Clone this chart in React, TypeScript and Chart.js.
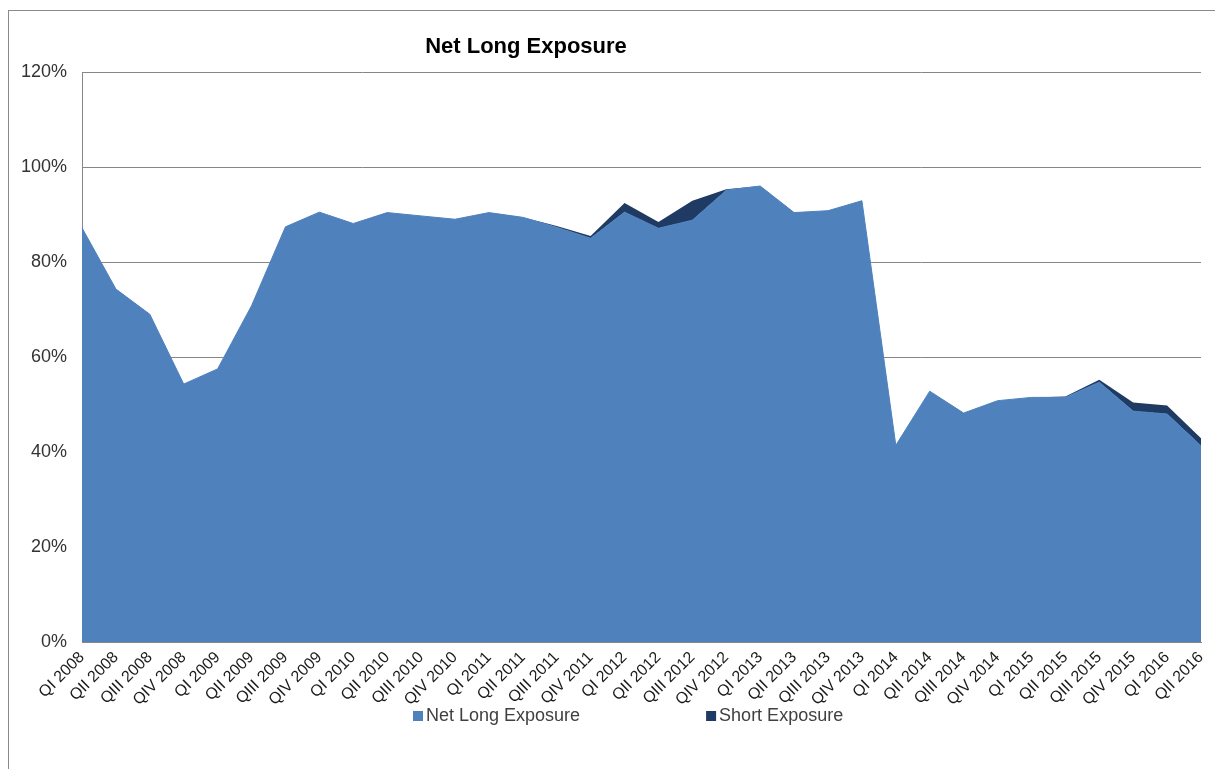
import React, { useEffect, useRef } from 'react';
import { Chart, registerables } from 'chart.js';

Chart.register(...registerables);

const quarters = [
  'QI 2008', 'QII 2008', 'QIII 2008', 'QIV 2008',
  'QI 2009', 'QII 2009', 'QIII 2009', 'QIV 2009',
  'QI 2010', 'QII 2010', 'QIII 2010', 'QIV 2010',
  'QI 2011', 'QII 2011', 'QIII 2011', 'QIV 2011',
  'QI 2012', 'QII 2012', 'QIII 2012', 'QIV 2012',
  'QI 2013', 'QII 2013', 'QIII 2013', 'QIV 2013',
  'QI 2014', 'QII 2014', 'QIII 2014', 'QIV 2014',
  'QI 2015', 'QII 2015', 'QIII 2015', 'QIV 2015',
  'QI 2016', 'QII 2016',
];

const netLongExposure = [
  87.2, 74.3, 69.0, 54.3, 57.5, 70.8, 87.4, 90.5,
  88.1, 90.4, 89.7, 89.0, 90.4, 89.4, 87.3, 85.0,
  90.5, 87.1, 88.8, 95.1, 96.0, 90.4, 90.8, 92.9,
  41.4, 52.8, 48.2, 50.8, 51.5, 51.5, 54.7, 48.6,
  48.0, 41.3,
];

const shortExposure = [
  0, 0, 0, 0, 0, 0, 0, 0,
  0, 0, 0, 0, 0, 0, 0.3, 0.5,
  1.9, 1.3, 4.1, 0.2, 0, 0, 0, 0,
  0, 0, 0, 0, 0, 0.2, 0.5, 1.8,
  1.8, 1.6,
];

const yTickValues = [0, 20, 40, 60, 80, 100, 120];
const chartTitle = 'Net Long Exposure';
const seriesNames = ['Net Long Exposure', 'Short Exposure'];
const seriesColors = ['#4F81BD', '#1F3B63'];

const FONT = '"Liberation Sans", Arial, Helvetica, sans-serif';

export default function App() {
  const canvasRef = useRef<HTMLCanvasElement | null>(null);

  useEffect(() => {
    document.documentElement.style.overflow = 'hidden';
    document.body.style.overflow = 'hidden';
    const canvas = canvasRef.current;
    if (!canvas) return;

    const overlay = {
      id: 'overlay',
      afterDraw(chart: any) {
        const ctx = chart.ctx;
        const area = chart.chartArea;
        ctx.save();
        ctx.fillStyle = '#000';
        ctx.font = `bold 22px ${FONT}`;
        ctx.textAlign = 'center';
        ctx.textBaseline = 'middle';
        ctx.fillText(chartTitle, area.left + 444, 36);

        ctx.font = `18px ${FONT}`;
        ctx.textAlign = 'left';
        ctx.textBaseline = 'middle';
        const y = 705;
        let x = 404;
        seriesNames.forEach((name, i) => {
          ctx.fillStyle = seriesColors[i];
          ctx.fillRect(x, y - 5, 10, 10);
          ctx.fillStyle = '#404040';
          ctx.fillText(name, x + 13, y);
          x += 13 + ctx.measureText(name).width + 126;
        });
        ctx.restore();
      },
    };

    const chart = new Chart(canvas, {
      type: 'line',
      data: {
        labels: quarters,
        datasets: [
          {
            label: seriesNames[0],
            data: netLongExposure,
            backgroundColor: seriesColors[0],
            borderColor: seriesColors[0],
            borderWidth: 1,
            fill: 'origin',
            pointRadius: 0,
            tension: 0,
          },
          {
            label: seriesNames[1],
            data: shortExposure,
            backgroundColor: seriesColors[1],
            borderColor: seriesColors[1],
            borderWidth: 0,
            fill: '-1',
            pointRadius: 0,
            tension: 0,
          },
        ],
      },
      options: {
        responsive: false,
        animation: false,
        layout: { padding: { top: 61, right: 21, bottom: 0, left: 0 } },
        plugins: {
          legend: { display: false },
          title: { display: false },
          tooltip: { enabled: false },
        },
        scales: {
          x: {
            offset: false,
            grid: { display: false, drawTicks: false },
            border: { display: true, color: '#868686' },
            ticks: {
              autoSkip: false,
              minRotation: 45,
              maxRotation: 45,
              padding: 6,
              color: '#1a1a1a',
              font: { family: FONT, size: 16 },
            },
            afterFit: (s: any) => {
              s.height = 127;
            },
          },
          y: {
            stacked: true,
            min: yTickValues[0],
            max: yTickValues[yTickValues.length - 1],
            grid: { color: '#868686', drawTicks: false },
            border: { display: true, color: '#868686' },
            ticks: {
              stepSize: 20,
              padding: 15,
              color: '#333333',
              font: { family: FONT, size: 18 },
              callback: (v: any) => `${v}%`,
            },
            afterFit: (s: any) => {
              s.width = 73;
            },
          },
        },
      },
      plugins: [overlay],
    });

    return () => chart.destroy();
  }, []);

  return (
    <div
      style={{
        marginTop: 2,
        width: 1215,
        height: 759,
        borderTop: '1px solid #8a8a8a',
        borderLeft: '1px solid #8a8a8a',
        boxSizing: 'border-box',
      }}
    >
      <canvas ref={canvasRef} width={1213} height={758} style={{ display: 'block' }} />
    </div>
  );
}
